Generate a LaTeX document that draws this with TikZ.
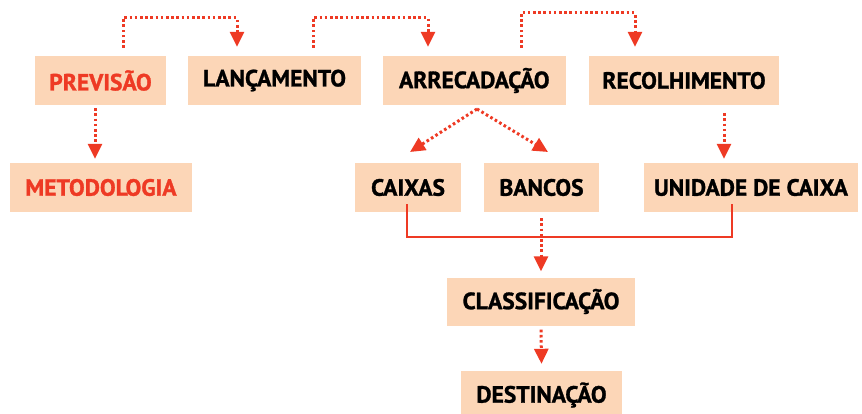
\documentclass[tikz,border=0pt]{standalone}
\usepackage{fontspec}
\setmainfont{PT Sans}[BoldFeatures={FakeBold=1.2}]
\usetikzlibrary{arrows.meta}
\definecolor{peach}{RGB}{252,214,183}
\definecolor{fred}{RGB}{238,58,36}
\tikzset{
  box/.style={fill=peach, minimum height=49pt, inner sep=0pt, font=\fontsize{23.5}{23.5}\selectfont\bfseries},
  redtext/.style={text=fred},
  dotline/.style={draw=fred, line width=3pt, dash pattern=on 2.6pt off 2.6pt},
  dotarrow/.style={dotline, -{Triangle[length=15pt,width=14pt]}},
  solidline/.style={draw=fred, line width=2.6pt}
}
\begin{document}
\begin{tikzpicture}[x=1pt,y=-1pt]
\useasboundingbox (0,0) rectangle (862,414);
\clip (0,0) rectangle (862,414);
% top row
\node[box, redtext, minimum width=131pt] (prev) at (100.5,80.5) {PREVISÃO};
\node[box, minimum width=173pt] (lanc) at (274.5,80.5) {LANÇAMENTO};
\node[box, minimum width=183pt] (arre) at (474.3,80.5) {ARRECADAÇÃO};
\node[box, minimum width=190pt] (reco) at (684,80.5) {RECOLHIMENTO};
% second row
\node[box, redtext, minimum width=182pt] (meto) at (101,187.5) {METODOLOGIA};
\node[box, minimum width=106pt] (caix) at (408,187.5) {CAIXAS};
\node[box, minimum width=115pt] (banc) at (541.5,187.5) {BANCOS};
\node[box, minimum width=214pt] (unid) at (751,187.5) {UNIDADE DE CAIXA};
% lower
\node[box, minimum width=188pt, minimum height=48pt] (clas) at (541,301.5) {CLASSIFICAÇÃO};
\node[box, minimum width=161pt, minimum height=48pt] (dest) at (541.5,395) {DESTINAÇÃO};
% coordinates
\coordinate (a1) at (123,18); \coordinate (a2) at (237,18);
\coordinate (b1) at (313,18); \coordinate (b2) at (428,18);
\coordinate (c1) at (521,13); \coordinate (c2) at (635,13);
\coordinate (s1) at (407,237); \coordinate (s2) at (732,237);
\coordinate (arrS) at (477,109);
% top connectors
\draw[dotarrow] (prev.north -| a1) ++(0,-8) -- (a1) -- (a2) -- ([yshift=9pt]lanc.north -| a2);
\draw[dotarrow] (lanc.north -| b1) ++(0,-8) -- (b1) -- (b2) -- ([yshift=9pt]arre.north -| b2);
\draw[dotarrow] (arre.north -| c1) ++(0,-8) -- (c1) -- (c2) -- ([yshift=9pt]reco.north -| c2);
% verticals
\draw[dotarrow] ([yshift=-3pt]prev.south -| 95,0) -- ([yshift=4pt]meto.north -| 95,0);
\draw[dotarrow] ([yshift=-8pt]reco.south -| 724,0) -- ([yshift=4pt]unid.north -| 724,0);
% diagonals
\draw[dotarrow] (arrS) -- (410,152);
\draw[dotarrow] (arrS) -- (548,152);
% solid bracket
\draw[solidline] ([yshift=8pt]caix.south -| s1) -- (s1) -- (s2) -- ([yshift=8pt]unid.south -| s2);
% lower arrows
\draw[dotarrow] ([yshift=-6pt]banc.south -| clas.north) -- ([yshift=6pt]clas.north);
\draw[dotarrow] ([yshift=-4pt]clas.south) -- ([yshift=7pt]dest.north);
\end{tikzpicture}
\end{document}
